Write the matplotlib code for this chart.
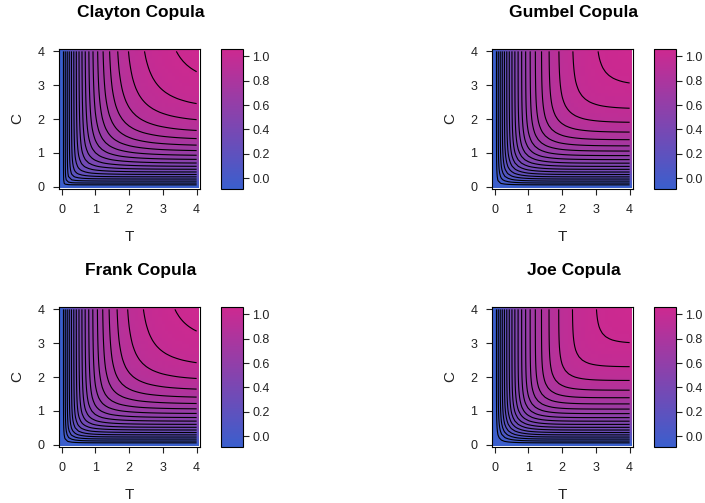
import numpy as np
import matplotlib
matplotlib.use("Agg")
from matplotlib import pyplot as plt
from matplotlib.colors import LinearSegmentedColormap, Normalize
from matplotlib.cm import ScalarMappable

plt.rcParams['font.family'] = ['Liberation Sans', 'DejaVu Sans']

# copulas shown, in panel order (row by row), and their parameters
copula_names = ["Clayton", "Gumbel", "Frank", "Joe"]
copula_theta = [2.0, 2.0, 5.74, 2.86]

# evaluation grid for T and C (exponential(1) margins)
grid_t = np.round(np.arange(0, 4.01, 0.1), 2)
grid_c = np.round(np.arange(0, 4.01, 0.1), 2)

contour_levels = [0.05, 0.10, 0.15, 0.20, 0.25, 0.30, 0.35, 0.40, 0.45, 0.50,
                  0.55, 0.60, 0.65, 0.70, 0.75, 0.80, 0.85, 0.90, 0.95]
key_ticks = [0.0, 0.2, 0.4, 0.6, 0.8, 1.0]
key_range = (-0.09, 1.06)
axis_ticks = [0, 1, 2, 3, 4]

low_col = "#3A5FCD"
high_col = "#CD2990"


def copula(name, u, v, th):
	with np.errstate(divide='ignore', invalid='ignore', over='ignore'):
		if name == "Clayton":
			z = (u**-th + v**-th - 1) ** (-1 / th)
		elif name == "Gumbel":
			z = np.exp(-((-np.log(u))**th + (-np.log(v))**th) ** (1 / th))
		elif name == "Frank":
			z = -np.log(1 + (np.exp(-th*u) - 1)*(np.exp(-th*v) - 1)/(np.exp(-th) - 1)) / th
		else:
			a = (1 - u)**th
			b = (1 - v)**th
			z = 1 - (a + b - a*b) ** (1 / th)
	z = np.where((u == 0) | (v == 0), 0.0, z)
	return z


cmap = LinearSegmentedColormap.from_list("bm", [low_col, high_col], N=256)

W, H = 705, 503
fig = plt.figure(figsize=(W/100, H/100), dpi=100)

# panel boxes in pixels: left, top
cols = [59, 492]
rows = [49, 307]
pw, ph = 141, 140
cb_dx, cb_w = 162, 22

TT, CC = np.meshgrid(grid_t, grid_c)
U = 1 - np.exp(-TT)
V = 1 - np.exp(-CC)

for k, name in enumerate(copula_names):
	r, c = divmod(k, 2)
	left, top = cols[c], rows[r]
	ax = fig.add_axes([left/W, 1 - (top+ph)/H, pw/W, ph/H])
	Z = copula(name, U, V, copula_theta[k])

	ax.imshow(Z, origin='lower', extent=(-0.05, 4.05, -0.05, 4.05), cmap=cmap,
		norm=Normalize(Z.min(), Z.max()), aspect='auto', interpolation='nearest')
	ax.contour(TT, CC, Z, levels=contour_levels, colors='black', linewidths=0.8)
	ax.set_xlim(-0.08, 4.1)
	ax.set_ylim(-0.07, 4.07)
	ax.set_xticks(axis_ticks)
	ax.set_yticks(axis_ticks)
	ax.tick_params(direction='out', length=4.5, width=0.8, labelsize=9, colors='#222222')
	ax.tick_params(axis='x', pad=6.5)
	ax.tick_params(axis='y', pad=6)
	for s in ax.spines.values():
		s.set_linewidth(0.8)
	ax.set_xlabel("T", fontsize=11, color='#222222')
	ax.set_ylabel("C", fontsize=11, color='#222222')
	ax.xaxis.set_label_coords(0.5, -48/ph)
	ax.xaxis.label.set_va('center')
	ax.yaxis.set_label_coords(-42/pw, 0.5)
	ax.yaxis.label.set_va('center')
	ax.annotate(f"{name} Copula", xy=(0.5, 1), xycoords='axes fraction',
		xytext=(11, 36), textcoords='offset pixels', ha='center', va='center',
		fontsize=12.5, fontweight='bold')

	cax = fig.add_axes([(left+cb_dx)/W, 1 - (top+ph)/H, cb_w/W, ph/H])
	cb = fig.colorbar(ScalarMappable(norm=Normalize(*key_range), cmap=cmap), cax=cax)
	cb.set_ticks(key_ticks)
	cb.set_ticklabels([f"{t:.1f}" for t in key_ticks])
	cb.outline.set_linewidth(0.8)
	cax.tick_params(direction='out', length=4, width=0.8, labelsize=9, pad=2.5, colors='#222222')

fig.savefig("out.png", dpi=100)
